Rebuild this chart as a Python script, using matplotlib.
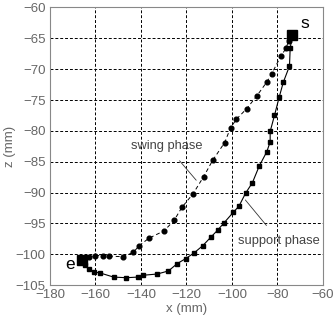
import matplotlib
matplotlib.use("Agg")
import matplotlib.pyplot as plt

# swing phase (circles, dashed), from e towards s
swing_x = [-162.9, -160.1, -156.7, -154.0, -147.9, -143.4, -140.7, -136.5,
           -129.8, -125.4, -122.0, -117.1, -112.4, -108.5, -103.2, -100.6,
           -98.0, -93.5, -89.0, -84.7, -82.6, -78.5, -76.2, -75.1]
swing_z = [-100.5, -100.2, -100.2, -100.3, -100.4, -99.7, -98.6, -97.4,
           -96.2, -94.5, -92.4, -90.2, -87.4, -84.8, -81.9, -79.5,
           -78.1, -76.4, -74.3, -72.1, -70.8, -67.9, -66.6, -65.4]

# support phase (squares, solid), from s towards e
support_x = [-73.4, -74.4, -74.7, -77.4, -79.2, -81.3, -83.2, -83.2, -84.7,
             -88.0, -91.0, -94.0, -96.9, -99.4, -103.7, -106.3, -109.2,
             -112.8, -116.7, -120.3, -124.0, -127.9, -132.8, -139.0, -141.5,
             -146.4, -152.0, -158.2, -160.7, -162.9, -164.7, -165.9]
support_z = [-64.4, -66.6, -69.5, -72.1, -74.5, -77.5, -80.1, -81.8, -83.4,
             -85.7, -88.4, -90.1, -92.2, -93.2, -95.0, -96.1, -97.2,
             -98.6, -99.8, -100.7, -101.5, -102.7, -103.2, -103.4, -103.7,
             -103.8, -103.7, -103.0, -102.9, -102.4, -101.7, -100.9]

x_ticks = [-180, -160, -140, -120, -100, -80, -60]
z_ticks = [-105, -100, -95, -90, -85, -80, -75, -70, -65, -60]

plt.rcParams["font.family"] = "Liberation Sans"

fig = plt.figure(figsize=(3.35, 3.24), dpi=100)
ax = fig.add_axes([0.149, 0.120, 0.815, 0.857])

ax.plot(swing_x, swing_z, color="black", linestyle=(0, (4, 3)), linewidth=0.7,
        marker="o", markersize=3.4)
ax.plot(support_x, support_z, color="black", linestyle="-", linewidth=0.8,
        marker="s", markersize=3.4)

# start / end markers
ax.plot(support_x[0], support_z[0], marker="s", color="black", markersize=6.5)
ax.plot(support_x[-1], support_z[-1], marker="s", color="black", markersize=6.5)
ax.text(-68.1, -62.6, "s", fontsize=12.5, ha="center", va="center")
ax.text(-171.3, -101.6, "e", fontsize=12.5, ha="center", va="center")

# labels with leader lines
ax.annotate("swing phase", xy=(-115.7, -88.0), xytext=(-128.7, -82.4),
            fontsize=9.3, color="#444444", ha="center", va="center",
            arrowprops=dict(arrowstyle="-", color="#333333", lw=0.6,
                            shrinkA=6, shrinkB=0))
ax.annotate("support phase", xy=(-94.1, -91.2), xytext=(-79.3, -97.8),
            fontsize=9.3, color="#444444", ha="center", va="center",
            arrowprops=dict(arrowstyle="-", color="#333333", lw=0.6,
                            shrinkA=6, shrinkB=0))

ax.set_xlim(-180, -60)
ax.set_ylim(-105, -60)
ax.set_xticks(x_ticks)
ax.set_yticks(z_ticks)
ax.grid(True, color="black", linestyle=(0, (3, 2)), linewidth=0.7)
ax.tick_params(length=0, labelsize=9.5, colors="#666666", pad=3)
for spine in ax.spines.values():
    spine.set_color("#888888")
    spine.set_linewidth(0.8)

ax.set_xlabel("x (mm)", fontsize=9.5, color="#666666", labelpad=1)
ax.set_ylabel("z (mm)", fontsize=9.5, color="#666666", labelpad=0)

fig.savefig("out.png", dpi=100)
